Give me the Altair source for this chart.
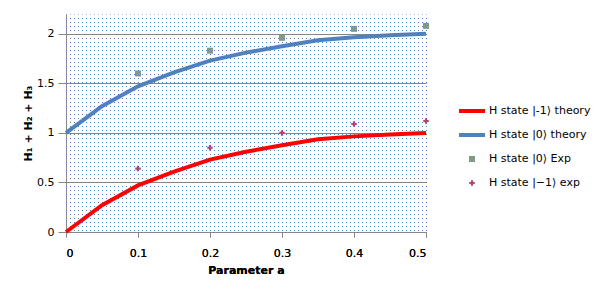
import altair as alt
import pandas as pd

# ---- data ----
x_theory = [0, 0.05, 0.1, 0.15, 0.2, 0.25, 0.3, 0.35, 0.4, 0.45, 0.5]
minus1_theory = [0, 0.27, 0.47, 0.61, 0.73, 0.81, 0.875, 0.935, 0.965, 0.985, 1.0]
zero_theory = [1.0, 1.27, 1.47, 1.61, 1.73, 1.81, 1.875, 1.935, 1.965, 1.985, 2.0]
x_exp = [0.1, 0.2, 0.3, 0.4, 0.5]
zero_exp = [1.60, 1.83, 1.96, 2.05, 2.08]
minus1_exp = [0.64, 0.85, 1.0, 1.09, 1.12]

series_names = ["H state |-1⟩ theory", "H state |0⟩ theory", "H state |0⟩ Exp", "H state |−1⟩ exp"]
series_colors = ["#ff0000", "#4f81bd", "#7f9a86", "#b4456f"]
series_shapes = ["stroke", "stroke", "square", "cross"]
series_sizes = [676, 676, 36, 30]
series_widths = [4, 4, 0, 0]

x_ticks = [0, 0.1, 0.2, 0.3, 0.4, 0.5]
y_ticks = [0, 0.5, 1, 1.5, 2]

FONT = "DejaVu Sans"
GRAY = "#868686"

theory = pd.DataFrame({
    "a": x_theory + x_theory,
    "v": minus1_theory + zero_theory,
    "s": [series_names[0]] * len(x_theory) + [series_names[1]] * len(x_theory),
})
exp = pd.DataFrame({
    "a": x_exp + x_exp,
    "v": zero_exp + minus1_exp,
    "s": [series_names[2]] * len(x_exp) + [series_names[3]] * len(x_exp),
})

x_enc = alt.X("a:Q", scale=alt.Scale(domain=[0, 0.5], nice=False),
              axis=alt.Axis(orient="bottom", values=x_ticks, format=".1~f", grid=False,
                            tickSize=5, labelPadding=10, title="Parameter a", titlePadding=6))
y_enc = alt.Y("v:Q", scale=alt.Scale(domain=[0, 2.2], nice=False),
              axis=alt.Axis(values=y_ticks, format=".1~f", grid=True, gridColor=GRAY,
                            tickSize=8, labelPadding=4, title="H₁ + H₂ + H₃", titlePadding=3))

legend = alt.Legend(orient="none", legendX=391, legendY=87, title=None,
                    labelFont=FONT, labelFontSize=11, labelColor="black",
                    labelOffset=2, rowPadding=4, clipHeight=20, padding=0,
                    symbolOpacity=1, labelLimit=200)

color = alt.Color("s:N", scale=alt.Scale(domain=series_names, range=series_colors), legend=legend)
shape = alt.Shape("s:N", scale=alt.Scale(domain=series_names, range=series_shapes))
size = alt.Size("s:N", scale=alt.Scale(type="ordinal", domain=series_names, range=series_sizes))
sw = alt.StrokeWidth("s:N", scale=alt.Scale(type="ordinal", domain=series_names, range=series_widths))

# dotted plot-area background drawn as dashed gridlines of a hidden axis
dots = alt.Chart(pd.DataFrame({"d": [0]})).mark_point(opacity=0).encode(
    x=alt.X("d:Q", scale=alt.Scale(domain=[0, 90], nice=False),
            axis=alt.Axis(orient="top", grid=True, tickCount=90, labels=False, ticks=False,
                          domain=False, title=None, gridColor="#4f81bd", gridDash=[1, 3],
                          gridDashOffset=0.5, gridWidth=1, gridOpacity=1))
)

lines = alt.Chart(theory).mark_line().encode(x=x_enc, y=y_enc, color=color, strokeWidth=sw)
points = alt.Chart(exp).mark_point(filled=True, opacity=1).encode(
    x=x_enc, y=y_enc, color=color, shape=shape, size=size, strokeWidth=sw)

chart = alt.layer(dots, lines, points).resolve_scale(x="independent").properties(
    width=360, height=218,
    autosize=alt.AutoSizeParams(type="none"),
    padding={"left": 58, "top": 6, "right": 168, "bottom": 55},
).configure_view(stroke=None).configure_axis(
    labelFont=FONT, labelFontSize=11, labelColor="black",
    titleFont=FONT, titleFontSize=11, titleFontWeight="bold", titleColor="black",
    domainColor=GRAY, tickColor=GRAY,
)

chart.save("out.html", embed_options={"renderer": "svg", "actions": False})
